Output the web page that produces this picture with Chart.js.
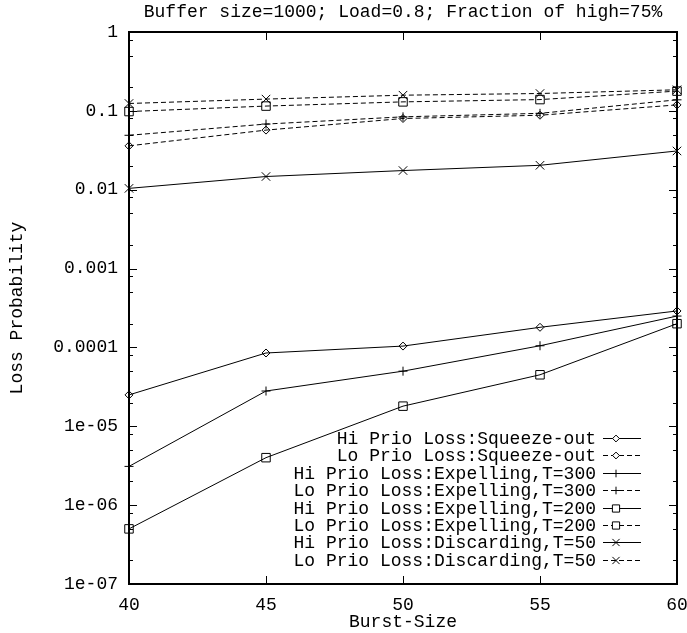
<!DOCTYPE html>
<html>
<head>
<meta charset="utf-8">
<title>Loss Probability vs Burst-Size</title>
<script src="https://cdn.jsdelivr.net/npm/chart.js"></script>
<style>
  html, body { margin: 0; padding: 0; background: #fff; }
  canvas { display: block; }
</style>
</head>
<body>
<canvas id="grafica" width="687" height="633"></canvas>
<script>
const burstSizes = [40, 45, 50, 55, 60];

const hiSqueeze = [2.5e-5, 8.5e-5, 1.04e-4, 1.8e-4, 2.9e-4];
const loSqueeze = [0.036, 0.057, 0.080, 0.088, 0.119];
const hiExpel300 = [3.1e-6, 2.8e-5, 5.0e-5, 1.05e-4, 2.5e-4];
const loExpel300 = [0.049, 0.068, 0.084, 0.093, 0.138];
const hiExpel200 = [5.0e-7, 4.0e-6, 1.8e-5, 4.5e-5, 2.0e-4];
const loExpel200 = [0.098, 0.115, 0.130, 0.139, 0.178];
const hiDiscard50 = [0.0104, 0.0147, 0.0175, 0.0204, 0.031];
const loDiscard50 = [0.124, 0.141, 0.158, 0.166, 0.185];

const xTicks = [40, 45, 50, 55, 60];
const yDecades = [1, 0.1, 0.01, 0.001, 0.0001, 1e-5, 1e-6, 1e-7];
const yTickLabels = ["1", "0.1", "0.01", "0.001", "0.0001", "1e-05", "1e-06", "1e-07"];

const FONT = "Liberation Mono";

function serie(label, values, estilo, radio, punteada) {
  return {
    label: label,
    data: burstSizes.map((x, i) => ({ x: x, y: values[i] })),
    borderColor: "#000",
    backgroundColor: "rgba(0,0,0,0)",
    borderWidth: 1,
    borderDash: punteada ? [5, 3] : [],
    pointStyle: estilo,
    pointRadius: radio,
    pointBorderColor: "#000",
    pointBackgroundColor: "rgba(0,0,0,0)",
    pointBorderWidth: 1,
    tension: 0,
    clip: false,
  };
}

const datasets = [
  serie("Hi Prio Loss:Squeeze-out", hiSqueeze, "rectRot", 4, false),
  serie("Lo Prio Loss:Squeeze-out", loSqueeze, "rectRot", 4, true),
  serie("Hi Prio Loss:Expelling,T=300", hiExpel300, "cross", 4.5, false),
  serie("Lo Prio Loss:Expelling,T=300", loExpel300, "cross", 4.5, true),
  serie("Hi Prio Loss:Expelling,T=200", hiExpel200, "rect", 6, false),
  serie("Lo Prio Loss:Expelling,T=200", loExpel200, "rect", 6, true),
  serie("Hi Prio Loss:Discarding,T=50", hiDiscard50, "crossRot", 6, false),
  serie("Lo Prio Loss:Discarding,T=50", loDiscard50, "crossRot", 6, true),
];

// marco y marcas de eje hacia dentro (estilo gnuplot) + leyenda dentro del grafico
const marcoPlugin = {
  id: "marco",
  afterDraw(chart) {
    const ctx = chart.ctx;
    const a = chart.chartArea;
    const xs = chart.scales.x;
    const ys = chart.scales.y;
    ctx.save();
    ctx.strokeStyle = "#000";
    ctx.lineWidth = 1;
    ctx.beginPath();
    ys.ticks.forEach((t) => {
      const py = Math.round(ys.getPixelForValue(t.value)) + 0.5;
      const largo = t.major ? 8 : 4;
      ctx.moveTo(a.left, py);
      ctx.lineTo(a.left + largo, py);
      ctx.moveTo(a.right, py);
      ctx.lineTo(a.right - largo, py);
    });
    xTicks.forEach((v) => {
      const px = Math.round(xs.getPixelForValue(v)) + 0.5;
      ctx.moveTo(px, a.bottom);
      ctx.lineTo(px, a.bottom - 8);
      ctx.moveTo(px, a.top);
      ctx.lineTo(px, a.top + 8);
    });
    ctx.stroke();

    ctx.lineWidth = 2;
    ctx.strokeRect(a.left, a.top, a.right - a.left, a.bottom - a.top);

    // leyenda
    const textoX = 596;
    const lineaIni = 603;
    const lineaFin = 641;
    const marcaX = 616;
    const y0 = 438;
    const paso = 17.4;
    ctx.font = "18px '" + FONT + "'";
    ctx.textAlign = "right";
    ctx.textBaseline = "middle";
    chart.data.datasets.forEach((ds, i) => {
      const y = Math.round(y0 + i * paso) + 0.5;
      ctx.fillStyle = "#000";
      ctx.fillText(ds.label, textoX, y + 1);
      ctx.lineWidth = 1;
      ctx.setLineDash(ds.borderDash);
      ctx.beginPath();
      ctx.moveTo(lineaIni, y);
      ctx.lineTo(lineaFin, y);
      ctx.stroke();
      ctx.setLineDash([]);
      ctx.fillStyle = "#fff";
      Chart.helpers.drawPoint(ctx, {
        pointStyle: ds.pointStyle,
        radius: ds.pointRadius * 0.85,
        rotation: 0,
        borderWidth: 1,
      }, marcaX, y);
    });
    ctx.restore();
  },
};

new Chart(document.getElementById("grafica"), {
  type: "line",
  data: { datasets: datasets },
  options: {
    responsive: false,
    animation: false,
    layout: { padding: 0 },
    plugins: {
      legend: { display: false },
      tooltip: { enabled: false },
      title: {
        display: true,
        fullSize: false,
        text: "Buffer size=1000; Load=0.8; Fraction of high=75%",
        color: "#000",
        font: { family: FONT, size: 18, weight: "normal" },
        padding: { top: 1, bottom: 9.4 },
      },
    },
    scales: {
      x: {
        type: "linear",
        min: 40,
        max: 60,
        afterBuildTicks: (scale) => {
          scale.ticks = xTicks.map((v) => ({ value: v }));
        },
        afterFit: (scale) => {
          scale.height = 49;
          scale.paddingLeft = 0;
          scale.paddingRight = 10;
        },
        grid: { drawOnChartArea: false, drawTicks: false },
        border: { display: false },
        ticks: {
          color: "#000",
          padding: 10,
          maxRotation: 0,
          autoSkip: false,
          font: { family: FONT, size: 18 },
        },
        title: {
          display: true,
          text: "Burst-Size",
          color: "#000",
          font: { family: FONT, size: 18 },
          padding: { top: 0, bottom: 0 },
        },
      },
      y: {
        type: "logarithmic",
        min: 1e-7,
        max: 1,
        afterBuildTicks: (scale) => {
          const t = [];
          yDecades.forEach((d) => {
            t.push({ value: d, major: true });
            if (d < 1) {
              [2, 5, 8].forEach((m) => t.push({ value: d * m, major: false }));
            }
          });
          scale.ticks = t.sort((p, q) => p.value - q.value);
        },
        afterFit: (scale) => {
          scale.width = 129;
          scale.paddingTop = 0;
          scale.paddingBottom = 0;
        },
        grid: { drawOnChartArea: false, drawTicks: false },
        border: { display: false },
        ticks: {
          color: "#000",
          padding: 11,
          autoSkip: false,
          font: { family: FONT, size: 18 },
          callback: function (value) {
            const k = yDecades.findIndex((d) => Math.abs(d - value) / d < 1e-6);
            return k >= 0 ? yTickLabels[k] : "";
          },
        },
        title: {
          display: true,
          text: "Loss Probability",
          color: "#000",
          font: { family: FONT, size: 18 },
          padding: { top: 6, bottom: 0 },
        },
      },
    },
  },
  plugins: [marcoPlugin],
});
</script>
</body>
</html>
